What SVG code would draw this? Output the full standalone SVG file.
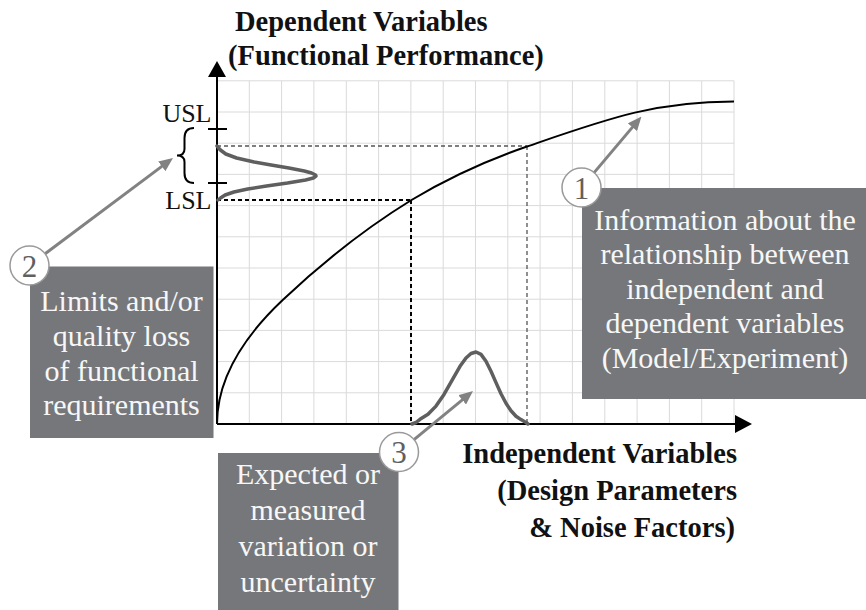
<svg xmlns="http://www.w3.org/2000/svg" width="866" height="610" viewBox="0 0 866 610">
<style>
.title{font-family:"Liberation Serif","Times New Roman",serif;font-weight:bold;font-size:28.5px;fill:#111}
.lim{font-family:"Liberation Serif","Times New Roman",serif;font-size:26px;fill:#111;text-anchor:end}
.box{fill:#76777b}
.btxt{font-family:"Liberation Serif","Times New Roman",serif;font-size:30px;fill:#f7f7f7;text-anchor:middle}
.num{font-family:"Liberation Serif","Times New Roman",serif;font-size:31px;fill:#606060;text-anchor:middle}
.circ{fill:#fff;stroke:#9a9a9a;stroke-width:1.5}
.grid{stroke:#dadada;stroke-width:1;fill:none}
.axis{stroke:#000;stroke-width:2;fill:none}
.bell{stroke:#5f5f5f;stroke-width:3.5;fill:none;stroke-linejoin:round;stroke-linecap:round}
.conn{stroke:#828282;stroke-width:3;fill:none}
</style>
<defs>
<marker id="ah" markerUnits="userSpaceOnUse" viewBox="0 0 14 12" markerWidth="14" markerHeight="12" refX="8" refY="6" orient="auto">
<path d="M0,0 L14,6 L0,12 z" fill="#828282"/>
</marker>
</defs>
<rect width="866" height="610" fill="#fff"/>
<g id="grid">
<path class="grid" d="M249.3 80.8V424M281.6 80.8V424M313.9 80.8V424M346.3 80.8V424M378.6 80.8V424M410.9 80.8V424M443.2 80.8V424M475.5 80.8V424M507.8 80.8V424M540.1 80.8V424M572.4 80.8V424M604.8 80.8V424M637.1 80.8V424M669.4 80.8V424M701.7 80.8V424M734 80.8V424M217 392.8H734M217 361.6H734M217 330.4H734M217 299.2H734M217 268H734M217 236.8H734M217 205.6H734M217 174.4H734M217 143.2H734M217 112H734M217 80.8H734"/>
</g>
<g id="guides">
<path d="M217 146H527M527 146V424" stroke="#555" stroke-width="1.3" stroke-dasharray="4 3" fill="none"/>
<path d="M217 200H411M411 200V424" stroke="#000" stroke-width="2" stroke-dasharray="4 3" fill="none"/>
</g>
<g id="axes">
<path class="axis" d="M217 424V76M217 424H736"/>
<path d="M217 61L208 77H226z" fill="#000"/>
<path d="M752 424L735 415V433z" fill="#000"/>
<path class="axis" d="M208 129H227M208 183H227"/>
<path d="M194 128Q184.5 128 184.5 138V149Q184.5 155.5 177 155.5Q184.5 155.5 184.5 162V173Q184.5 183 194 183" stroke="#000" stroke-width="2" fill="none"/>
<text class="lim" x="211.5" y="121.5">USL</text>
<text class="lim" x="211.5" y="208.5">LSL</text>
</g>
<g id="curve">
<path d="M217 424Q217 362 282.7 300C325.8 259.3 368.9 226.2 411.5 200C450.3 176.7 488.7 159.7 527 146.5C607 119 654 101.5 734 101.5" stroke="#000" stroke-width="2" fill="none"/>
</g>
<g id="bells">
<polyline class="bell" points="217,146 218.5,148 220.4,150 225.8,154 236.6,158 254.1,162 271.1,165 288.9,168 304.3,171 311.6,173 315.5,175 316,176 313.3,178 305.6,180 287.5,183 266.5,186 247.7,189 233.9,192 225.1,195 220.5,198 218,200"/>
<polyline class="bell" points="412,424 416,422.5 420,419.3 428,414.3 436,406.1 444,394.4 452,380.3 460,366.3 466,358 471,353.5 476,352 481,354.4 486,361.3 491,371.3 496,382.6 501,393.7 506,403.3 511,410.8 516,416.2 521,419.6 526,422.5 528,424"/>
</g>
<g id="titles">
<text class="title" x="235" y="31">Dependent Variables</text>
<text class="title" x="228" y="65">(Functional Performance)</text>
<text class="title" x="737" y="463" text-anchor="end">Independent Variables</text>
<text class="title" x="737" y="500" text-anchor="end">(Design Parameters</text>
<text class="title" x="735" y="537" text-anchor="end">&amp; Noise Factors)</text>
</g>
<g id="connectors">
<line class="conn" x1="594.1" y1="172.6" x2="637.6" y2="121.1" marker-end="url(#ah)"/>
<line class="conn" x1="45.1" y1="253.8" x2="168.2" y2="161.6" marker-end="url(#ah)"/>
<line class="conn" x1="414" y1="439.6" x2="468.4" y2="394.8" marker-end="url(#ah)"/>
</g>
<g id="node1">
<rect class="box" x="582" y="188" width="284" height="211"/>
<text class="btxt" x="725" y="229.5">Information about the</text>
<text class="btxt" x="725" y="264">relationship between</text>
<text class="btxt" x="725" y="298.5">independent and</text>
<text class="btxt" x="725" y="333">dependent variables</text>
<text class="btxt" x="725" y="367.5">(Model/Experiment)</text>
<circle class="circ" cx="581.5" cy="187.5" r="19.5"/>
<text class="num" x="581.5" y="198.5">1</text>
</g>
<g id="node2">
<rect class="box" x="30" y="266.5" width="183.5" height="171.5"/>
<text class="btxt" x="121.5" y="311">Limits and/or</text>
<text class="btxt" x="121.5" y="346">quality loss</text>
<text class="btxt" x="121.5" y="380.5">of functional</text>
<text class="btxt" x="121.5" y="415">requirements</text>
<circle class="circ" cx="29.5" cy="265.5" r="19.5"/>
<text class="num" x="29.5" y="276.5">2</text>
</g>
<g id="node3">
<rect class="box" x="218" y="453" width="180.5" height="157"/>
<text class="btxt" x="308" y="484">Expected or</text>
<text class="btxt" x="308" y="520">measured</text>
<text class="btxt" x="308" y="556">variation or</text>
<text class="btxt" x="308" y="591.5">uncertainty</text>
<circle class="circ" cx="399" cy="452" r="19.5"/>
<text class="num" x="399" y="463">3</text>
</g>
</svg>
